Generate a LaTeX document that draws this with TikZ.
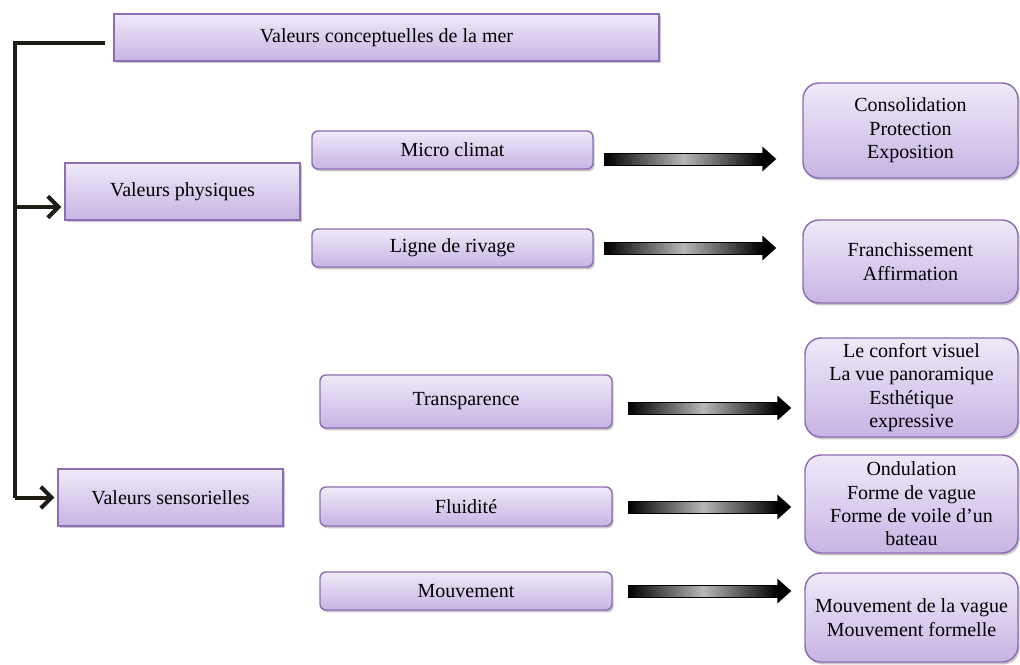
\documentclass[tikz,border=0pt]{standalone}
\usepackage{fontspec}
\setmainfont{Liberation Serif}
\usetikzlibrary{calc,shadows,arrows.meta}
\definecolor{boxtop}{RGB}{239,233,248}
\definecolor{boxbot}{RGB}{199,180,228}
\definecolor{boxline}{RGB}{140,110,178}
\definecolor{connc}{RGB}{30,28,20}
\tikzset{
  basebox/.style={draw=boxline, line width=1.1pt, top color=boxtop, bottom color=boxbot,
    inner sep=0pt, align=center, font=\fontsize{15}{17.5}\selectfont,
    drop shadow={shadow xshift=1.2pt, shadow yshift=-1.8pt, opacity=0.3, fill=black!70}},
  sqbox/.style={basebox},
  midbox/.style={basebox, rounded corners=4.5pt},
  rbox/.style={basebox, rounded corners=12pt},
  conn/.style={draw=connc, line width=3pt},
  conntip/.style={-{Straight Barb[length=8pt,width=16pt]}},
}
\newcommand{\blockarr}[2]{%
  \shade[left color=black, right color=black, middle color=black!28, draw=black, line width=0.6pt]
    ($(#1)+(0,-6)$) rectangle ($(#2)+(-14,6)$);
  \fill[black] ($(#2)+(-14,-12.5)$) -- (#2) -- ($(#2)+(-14,12.5)$) -- cycle;
}
\begin{document}
\begin{tikzpicture}[x=0.75pt,y=-0.75pt]
\useasboundingbox (0,0) rectangle (1020,664);

% left column
\node[sqbox, minimum width=408.75pt, minimum height=35.25pt] (top) at (386.5,37.5) {Valeurs conceptuelles de la mer};
\node[sqbox, minimum width=176.25pt, minimum height=42.75pt] (vp) at (182.5,191.5) {Valeurs physiques};
\node[sqbox, minimum width=168.75pt, minimum height=42.75pt] (vs) at (170.5,497.5) {Valeurs sensorielles};

% middle column
\node[midbox, minimum width=210.75pt, minimum height=28.5pt] (mc) at (452.5,150) {Micro climat};
\node[midbox, minimum width=210.75pt, minimum height=28.5pt] (lr) at (452.5,248) {Ligne de rivage};
\node[midbox, minimum width=219pt, minimum height=39.75pt] (tr) at (466,401.5) {Transparence};
\node[midbox, minimum width=219pt, minimum height=29.25pt] (fl) at (466,506.5) {Fluidité};
\node[midbox, minimum width=219pt, minimum height=28.5pt] (mv) at (466,591) {Mouvement};

% right column
\node[rbox, minimum width=161.25pt, minimum height=71.25pt] (r1) at (910.5,130.5) {Consolidation\\Protection\\Exposition};
\node[rbox, minimum width=161.25pt, minimum height=62.25pt] (r2) at (910.5,261.5) {Franchissement\\Affirmation};
\node[rbox, minimum width=159.75pt, minimum height=74.25pt] (r3) at (911.5,387.5) {Le confort visuel\\La vue panoramique\\Esthétique\\expressive};
\node[rbox, minimum width=159.75pt, minimum height=73.5pt] (r4) at (911.5,504) {Ondulation\\Forme de vague\\Forme de voile d’un\\bateau};
\node[rbox, minimum width=159.75pt, minimum height=66.75pt] (r5) at (911.5,617.5) {Mouvement de la vague\\Mouvement formelle};

% left connector
\coordinate (c0) at ($(top.west)+(-8,5.5)$);
\coordinate (c1) at (14.5,43);
\coordinate (c2) at (14.5,207);
\coordinate (c3) at (14.5,497.5);
\draw[conn, line join=miter] (c0) -- (c1) -- (c3);
\draw[conn, conntip] (c3) -- ($(vs.west)+(-3,0)$);
\draw[conn, conntip] (c2) -- ($(vp.west)+(-3,15.5)$);

% block arrows
\coordinate (a1s) at ($(mc.east)+(11,9)$);
\coordinate (a1e) at ($(r1.west |- a1s)+(-26,0)$);
\coordinate (a2s) at ($(lr.east)+(11,0)$);
\coordinate (a2e) at ($(r2.west |- a2s)+(-26,0)$);
\coordinate (a3s) at ($(tr.east)+(16,6.5)$);
\coordinate (a3e) at ($(r3.west |- a3s)+(-13,0)$);
\coordinate (a4s) at ($(fl.east)+(16,0.5)$);
\coordinate (a4e) at ($(r4.west |- a4s)+(-13,0)$);
\coordinate (a5s) at ($(mv.east)+(16,0)$);
\coordinate (a5e) at ($(r5.west |- a5s)+(-13,0)$);
\blockarr{a1s}{a1e}
\blockarr{a2s}{a2e}
\blockarr{a3s}{a3e}
\blockarr{a4s}{a4e}
\blockarr{a5s}{a5e}
\end{tikzpicture}
\end{document}
